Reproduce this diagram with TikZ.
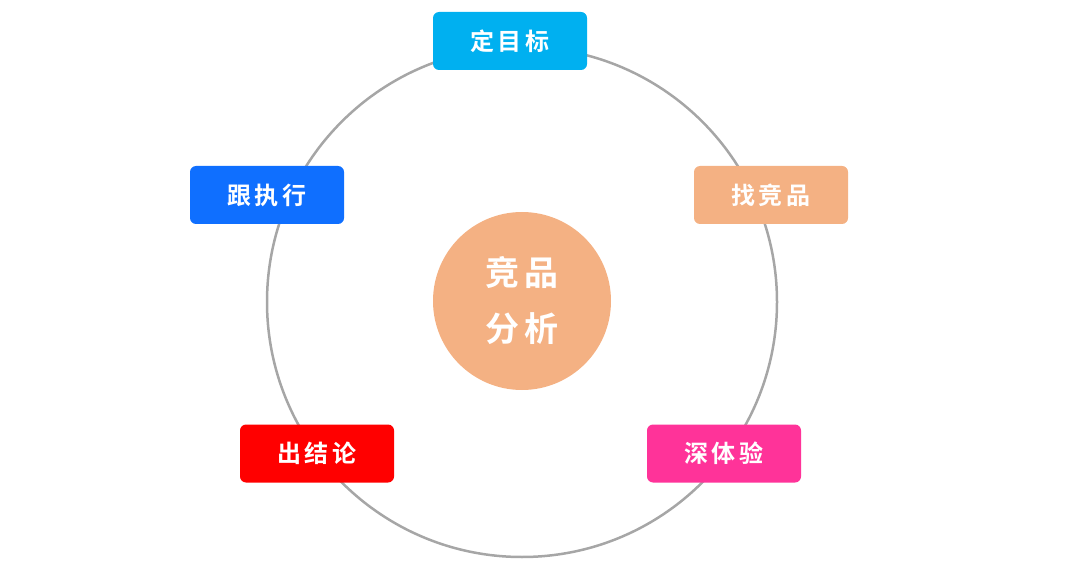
\documentclass[tikz,border=0pt]{standalone}
\usepackage{fontspec}
\newfontfamily\cjk{Noto Sans CJK SC Bold}
\definecolor{cyanb}{HTML}{00B0F0}
\definecolor{peach}{HTML}{F4B183}
\definecolor{blueb}{HTML}{0F6FFF}
\definecolor{redb}{HTML}{FF0000}
\definecolor{pinkb}{HTML}{FF3399}
\definecolor{ring}{HTML}{A6A6A6}
\tikzset{tag/.style={rounded corners=6pt,minimum width=154pt,minimum height=58pt,text=white,font=\cjk\fontsize{24pt}{28pt}\selectfont,inner sep=0pt}}
\begin{document}
\begin{tikzpicture}[x=1pt,y=-1pt]
\useasboundingbox (0,0) rectangle (1085,564);
\draw[ring,line width=2.5pt] (522,302) circle (255);
\node[circle,fill=peach,minimum size=178pt,inner sep=0pt,text=white,align=center,font=\cjk\fontsize{34pt}{56pt}\selectfont] (c) at (522,301) {竞\,品\\分\,析};
\node[tag,fill=cyanb] (a) at (510,41) {定\,目\,标};
\node[tag,fill=peach] (b) at (771,195) {找\,竞\,品};
\node[tag,fill=blueb] (e) at (267,195) {跟\,执\,行};
\node[tag,fill=redb] (d) at (317,453.5) {出\,结\,论};
\node[tag,fill=pinkb] (f) at (724,453.5) {深\,体\,验};
\end{tikzpicture}
\end{document}
